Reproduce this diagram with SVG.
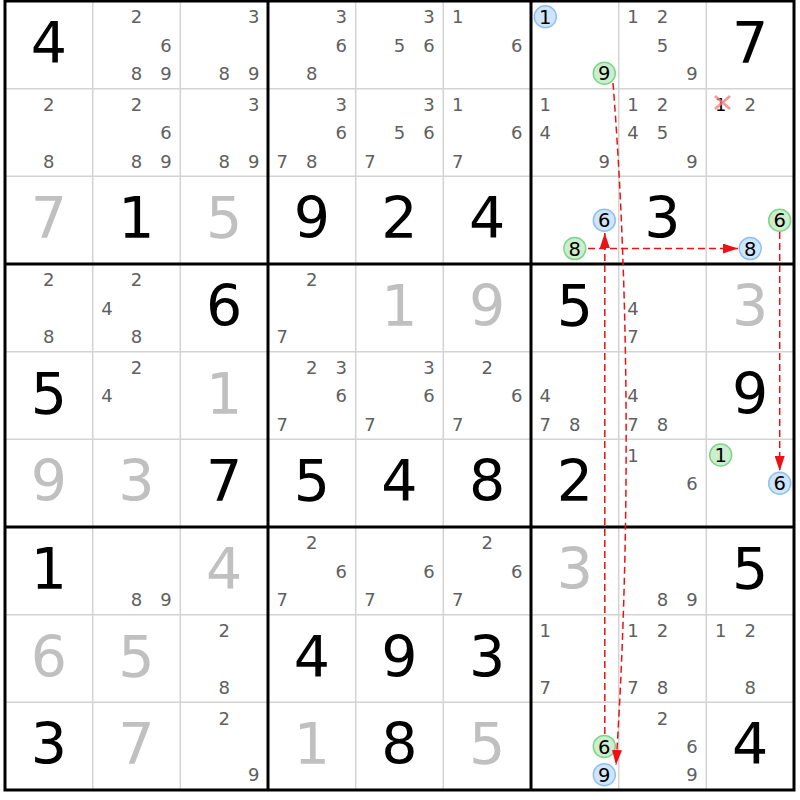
<svg xmlns="http://www.w3.org/2000/svg" width="800" height="800" viewBox="0 0 800 800">
<style>
.g{font-family:"DejaVu Sans",sans-serif;font-size:57px;fill:#000;text-anchor:middle}
.s{font-family:"DejaVu Sans",sans-serif;font-size:57px;fill:#c0c0c0;text-anchor:middle}
.c{font-family:"DejaVu Sans",sans-serif;font-size:18px;fill:#606060;text-anchor:middle}
.k{font-family:"DejaVu Sans",sans-serif;font-size:18px;fill:#000;text-anchor:middle}
.cc{font-family:"DejaVu Sans",sans-serif;font-size:19.5px;fill:#000;text-anchor:middle}
.thin{stroke:#d3d3d3;stroke-width:1.5}
.thick{stroke:#000;stroke-width:3}
.bl{fill:#cfe5fb;stroke:#8fc1f0;stroke-width:1.5}
.gr{fill:#cdeecd;stroke:#7dd68a;stroke-width:1.5}
.ar{fill:none;stroke:#ee1111;stroke-width:1.5;stroke-dasharray:7,4}
.xm{stroke:#ff7a7a;stroke-width:2.5;opacity:0.8}
</style>
<defs>
<marker id="ah" markerUnits="userSpaceOnUse" markerWidth="15" markerHeight="10" refX="15" refY="5" orient="auto">
<path d="M0,0 L15,5 L0,10 z" fill="#ee1111"/>
</marker>
</defs>
<rect x="0" y="0" width="800" height="800" fill="#fff"/>
<g id="grid">
<path class="thin" d="M92.7,1V790M180.3,1V790M355.7,1V790M443.3,1V790M618.7,1V790M706.3,1V790M5,88.7H794M5,176.3H794M5,351.7H794M5,439.3H794M5,614.7H794M5,702.3H794"/>
<path class="thick" d="M268,1V790M531,1V790M5,264H794M5,527H794"/>
<rect class="thick" x="5" y="1" width="789" height="789" fill="none"/>
</g>
<g id="r0c0"><text class="g" x="48.8" y="63">4</text></g>
<g id="r0c1"><text class="c" x="136.5" y="23.3">2</text><text class="c" x="166" y="51.6">6</text><text class="c" x="136.5" y="79.9">8</text><text class="c" x="166" y="79.9">9</text></g>
<g id="r0c2"><text class="c" x="253.7" y="23.3">3</text><text class="c" x="224.2" y="79.9">8</text><text class="c" x="253.7" y="79.9">9</text></g>
<g id="r0c3"><text class="c" x="341.3" y="23.3">3</text><text class="c" x="341.3" y="51.6">6</text><text class="c" x="311.8" y="79.9">8</text></g>
<g id="r0c4"><text class="c" x="429" y="23.3">3</text><text class="c" x="399.5" y="51.6">5</text><text class="c" x="429" y="51.6">6</text></g>
<g id="r0c5"><text class="c" x="457.7" y="23.3">1</text><text class="c" x="516.7" y="51.6">6</text></g>
<g id="r0c6"><circle class="bl" cx="545.3" cy="16.7" r="11"/><text class="cc" x="545.3" y="23.8">1</text><circle class="gr" cx="604.3" cy="73.3" r="11"/><text class="cc" x="604.3" y="80.4">9</text></g>
<g id="r0c7"><text class="c" x="633" y="23.3">1</text><text class="c" x="662.5" y="23.3">2</text><text class="c" x="662.5" y="51.6">5</text><text class="c" x="692" y="79.9">9</text></g>
<g id="r0c8"><text class="g" x="750.2" y="63">7</text></g>

<g id="r1c0"><text class="c" x="48.8" y="111">2</text><text class="c" x="48.8" y="167.6">8</text></g>
<g id="r1c1"><text class="c" x="136.5" y="111">2</text><text class="c" x="166" y="139.3">6</text><text class="c" x="136.5" y="167.6">8</text><text class="c" x="166" y="167.6">9</text></g>
<g id="r1c2"><text class="c" x="253.7" y="111">3</text><text class="c" x="224.2" y="167.6">8</text><text class="c" x="253.7" y="167.6">9</text></g>
<g id="r1c3"><text class="c" x="341.3" y="111">3</text><text class="c" x="341.3" y="139.3">6</text><text class="c" x="282.3" y="167.6">7</text><text class="c" x="311.8" y="167.6">8</text></g>
<g id="r1c4"><text class="c" x="429" y="111">3</text><text class="c" x="399.5" y="139.3">5</text><text class="c" x="429" y="139.3">6</text><text class="c" x="370" y="167.6">7</text></g>
<g id="r1c5"><text class="c" x="457.7" y="111">1</text><text class="c" x="516.7" y="139.3">6</text><text class="c" x="457.7" y="167.6">7</text></g>
<g id="r1c6"><text class="c" x="545.3" y="111">1</text><text class="c" x="545.3" y="139.3">4</text><text class="c" x="604.3" y="167.6">9</text></g>
<g id="r1c7"><text class="c" x="633" y="111">1</text><text class="c" x="662.5" y="111">2</text><text class="c" x="633" y="139.3">4</text><text class="c" x="662.5" y="139.3">5</text><text class="c" x="692" y="167.6">9</text></g>
<g id="r1c8"><text class="k" x="720.7" y="111">1</text><path class="xm" d="M715,96L730,109M730,96L715,109"/><text class="c" x="750.2" y="111">2</text></g>

<g id="r2c0"><text class="s" x="48.8" y="238.3">7</text></g>
<g id="r2c1"><text class="g" x="136.5" y="238.3">1</text></g>
<g id="r2c2"><text class="s" x="224.2" y="238.3">5</text></g>
<g id="r2c3"><text class="g" x="311.8" y="238.3">9</text></g>
<g id="r2c4"><text class="g" x="399.5" y="238.3">2</text></g>
<g id="r2c5"><text class="g" x="487.2" y="238.3">4</text></g>
<g id="r2c6"><circle class="bl" cx="604.3" cy="220.3" r="11"/><text class="cc" x="604.3" y="227.4">6</text><circle class="gr" cx="574.8" cy="248.6" r="11"/><text class="cc" x="574.8" y="255.7">8</text></g>
<g id="r2c7"><text class="g" x="662.5" y="238.3">3</text></g>
<g id="r2c8"><circle class="gr" cx="779.7" cy="220.3" r="11"/><text class="cc" x="779.7" y="227.4">6</text><circle class="bl" cx="750.2" cy="248.6" r="11"/><text class="cc" x="750.2" y="255.7">8</text></g>

<g id="r3c0"><text class="c" x="48.8" y="286.3">2</text><text class="c" x="48.8" y="342.9">8</text></g>
<g id="r3c1"><text class="c" x="136.5" y="286.3">2</text><text class="c" x="107" y="314.6">4</text><text class="c" x="136.5" y="342.9">8</text></g>
<g id="r3c2"><text class="g" x="224.2" y="326">6</text></g>
<g id="r3c3"><text class="c" x="311.8" y="286.3">2</text><text class="c" x="282.3" y="342.9">7</text></g>
<g id="r3c4"><text class="s" x="399.5" y="326">1</text></g>
<g id="r3c5"><text class="s" x="487.2" y="326">9</text></g>
<g id="r3c6"><text class="g" x="574.8" y="326">5</text></g>
<g id="r3c7"><text class="c" x="633" y="314.6">4</text><text class="c" x="633" y="342.9">7</text></g>
<g id="r3c8"><text class="s" x="750.2" y="326">3</text></g>

<g id="r4c0"><text class="g" x="48.8" y="413.7">5</text></g>
<g id="r4c1"><text class="c" x="136.5" y="374">2</text><text class="c" x="107" y="402.3">4</text></g>
<g id="r4c2"><text class="s" x="224.2" y="413.7">1</text></g>
<g id="r4c3"><text class="c" x="311.8" y="374">2</text><text class="c" x="341.3" y="374">3</text><text class="c" x="341.3" y="402.3">6</text><text class="c" x="282.3" y="430.6">7</text></g>
<g id="r4c4"><text class="c" x="429" y="374">3</text><text class="c" x="429" y="402.3">6</text><text class="c" x="370" y="430.6">7</text></g>
<g id="r4c5"><text class="c" x="487.2" y="374">2</text><text class="c" x="516.7" y="402.3">6</text><text class="c" x="457.7" y="430.6">7</text></g>
<g id="r4c6"><text class="c" x="545.3" y="402.3">4</text><text class="c" x="545.3" y="430.6">7</text><text class="c" x="574.8" y="430.6">8</text></g>
<g id="r4c7"><text class="c" x="633" y="402.3">4</text><text class="c" x="633" y="430.6">7</text><text class="c" x="662.5" y="430.6">8</text></g>
<g id="r4c8"><text class="g" x="750.2" y="413.7">9</text></g>

<g id="r5c0"><text class="s" x="48.8" y="501.3">9</text></g>
<g id="r5c1"><text class="s" x="136.5" y="501.3">3</text></g>
<g id="r5c2"><text class="g" x="224.2" y="501.3">7</text></g>
<g id="r5c3"><text class="g" x="311.8" y="501.3">5</text></g>
<g id="r5c4"><text class="g" x="399.5" y="501.3">4</text></g>
<g id="r5c5"><text class="g" x="487.2" y="501.3">8</text></g>
<g id="r5c6"><text class="g" x="574.8" y="501.3">2</text></g>
<g id="r5c7"><text class="c" x="633" y="461.6">1</text><text class="c" x="692" y="489.9">6</text></g>
<g id="r5c8"><circle class="gr" cx="720.7" cy="455" r="11"/><text class="cc" x="720.7" y="462.1">1</text><circle class="bl" cx="779.7" cy="483.3" r="11"/><text class="cc" x="779.7" y="490.4">6</text></g>

<g id="r6c0"><text class="g" x="48.8" y="589">1</text></g>
<g id="r6c1"><text class="c" x="136.5" y="605.9">8</text><text class="c" x="166" y="605.9">9</text></g>
<g id="r6c2"><text class="s" x="224.2" y="589">4</text></g>
<g id="r6c3"><text class="c" x="311.8" y="549.3">2</text><text class="c" x="341.3" y="577.6">6</text><text class="c" x="282.3" y="605.9">7</text></g>
<g id="r6c4"><text class="c" x="429" y="577.6">6</text><text class="c" x="370" y="605.9">7</text></g>
<g id="r6c5"><text class="c" x="487.2" y="549.3">2</text><text class="c" x="516.7" y="577.6">6</text><text class="c" x="457.7" y="605.9">7</text></g>
<g id="r6c6"><text class="s" x="574.8" y="589">3</text></g>
<g id="r6c7"><text class="c" x="662.5" y="605.9">8</text><text class="c" x="692" y="605.9">9</text></g>
<g id="r6c8"><text class="g" x="750.2" y="589">5</text></g>

<g id="r7c0"><text class="s" x="48.8" y="676.7">6</text></g>
<g id="r7c1"><text class="s" x="136.5" y="676.7">5</text></g>
<g id="r7c2"><text class="c" x="224.2" y="637">2</text><text class="c" x="224.2" y="693.6">8</text></g>
<g id="r7c3"><text class="g" x="311.8" y="676.7">4</text></g>
<g id="r7c4"><text class="g" x="399.5" y="676.7">9</text></g>
<g id="r7c5"><text class="g" x="487.2" y="676.7">3</text></g>
<g id="r7c6"><text class="c" x="545.3" y="637">1</text><text class="c" x="545.3" y="693.6">7</text></g>
<g id="r7c7"><text class="c" x="633" y="637">1</text><text class="c" x="662.5" y="637">2</text><text class="c" x="633" y="693.6">7</text><text class="c" x="662.5" y="693.6">8</text></g>
<g id="r7c8"><text class="c" x="720.7" y="637">1</text><text class="c" x="750.2" y="637">2</text><text class="c" x="750.2" y="693.6">8</text></g>

<g id="r8c0"><text class="g" x="48.8" y="764.4">3</text></g>
<g id="r8c1"><text class="s" x="136.5" y="764.4">7</text></g>
<g id="r8c2"><text class="c" x="224.2" y="724.7">2</text><text class="c" x="253.7" y="781.3">9</text></g>
<g id="r8c3"><text class="s" x="311.8" y="764.4">1</text></g>
<g id="r8c4"><text class="g" x="399.5" y="764.4">8</text></g>
<g id="r8c5"><text class="s" x="487.2" y="764.4">5</text></g>
<g id="r8c6"><circle class="gr" cx="604.3" cy="746.4" r="11"/><text class="cc" x="604.3" y="753.5">6</text><circle class="bl" cx="604.3" cy="774.7" r="11"/><text class="cc" x="604.3" y="781.8">9</text></g>
<g id="r8c7"><text class="c" x="662.5" y="724.7">2</text><text class="c" x="692" y="753">6</text><text class="c" x="692" y="781.3">9</text></g>
<g id="r8c8"><text class="g" x="750.2" y="764.4">4</text></g>

<g id="connectors">
<path class="ar" d="M613,83 C630,300 630,550 616,765" marker-end="url(#ah)"/>
<path class="ar" d="M588,248.6 H738" marker-end="url(#ah)"/>
<path class="ar" d="M604.8,734 V233" marker-end="url(#ah)"/>
<path class="ar" d="M779.7,232 V471" marker-end="url(#ah)"/>
</g>
</svg>
